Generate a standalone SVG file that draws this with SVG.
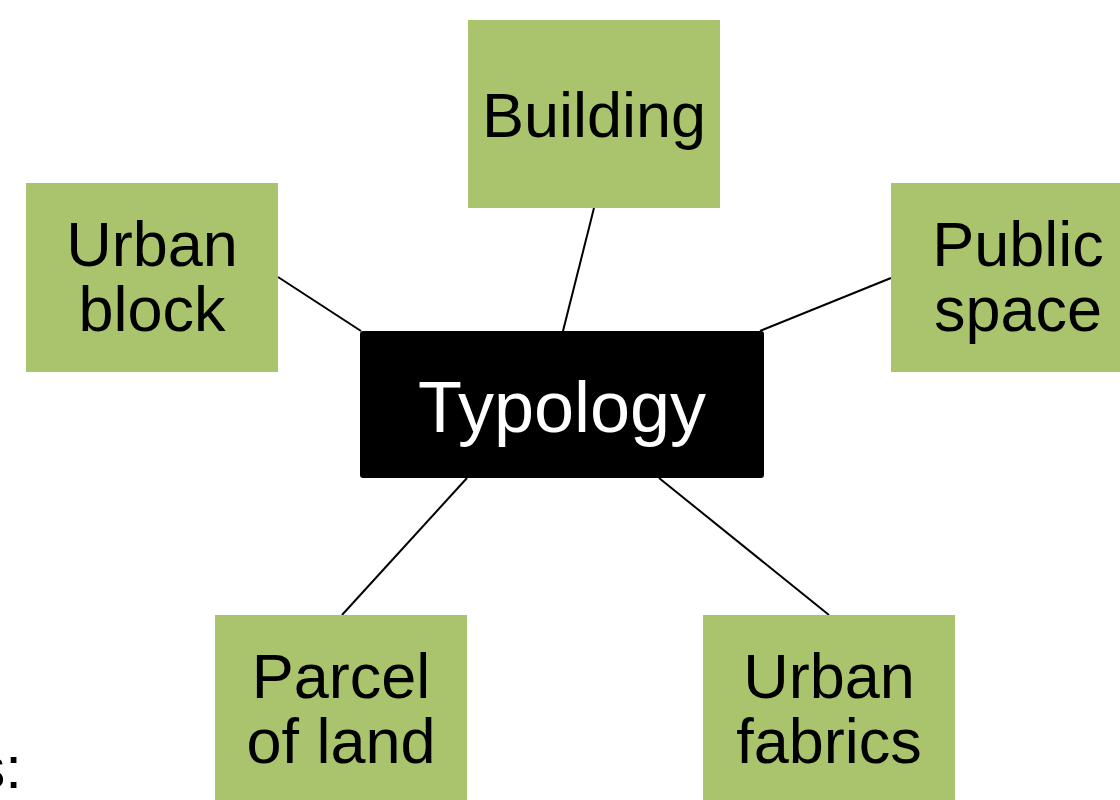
<svg xmlns="http://www.w3.org/2000/svg" width="1120" height="800" viewBox="0 0 1120 800">
<style>
.box{fill:#AAC46D;}
.lbl{font-family:"Liberation Sans",Arial,sans-serif;font-size:63px;fill:#000;text-anchor:middle;}
.conn line{stroke:#000;stroke-width:2;}
</style>
<rect width="1120" height="800" fill="#fff"/>
<g class="conn" id="connectors">
<line x1="594" y1="208" x2="563" y2="331"/>
<line x1="278" y1="277" x2="361" y2="331"/>
<line x1="891" y1="278" x2="760" y2="331"/>
<line x1="342" y1="615" x2="467" y2="478"/>
<line x1="829" y1="615" x2="659" y2="478"/>
</g>
<g id="building">
<rect class="box" x="468" y="20" width="252" height="188"/>
<text class="lbl" x="594" y="137">Building</text>
</g>
<g id="urban-block">
<rect class="box" x="26" y="183" width="252" height="189"/>
<text class="lbl" x="152" y="266">Urban</text>
<text class="lbl" x="152" y="331">block</text>
</g>
<g id="public-space">
<rect class="box" x="891" y="183" width="252" height="189"/>
<text class="lbl" x="1018" y="266">Public</text>
<text class="lbl" x="1018" y="331">space</text>
</g>
<g id="typology">
<rect x="360" y="331" width="404" height="147" rx="3" fill="#000"/>
<text x="562" y="432" font-family="Liberation Sans, Arial, sans-serif" font-size="72" fill="#fff" text-anchor="middle">Typology</text>
</g>
<g id="parcel">
<rect class="box" x="215" y="615" width="252" height="190"/>
<text class="lbl" x="341" y="698">Parcel</text>
<text class="lbl" x="341" y="763">of land</text>
</g>
<g id="urban-fabrics">
<rect class="box" x="703" y="615" width="252" height="190"/>
<text class="lbl" x="829" y="698">Urban</text>
<text class="lbl" x="829" y="763">fabrics</text>
</g>
<text x="22" y="788" font-family="Liberation Sans, Arial, sans-serif" font-size="60" fill="#000" text-anchor="end">s:</text>
</svg>
